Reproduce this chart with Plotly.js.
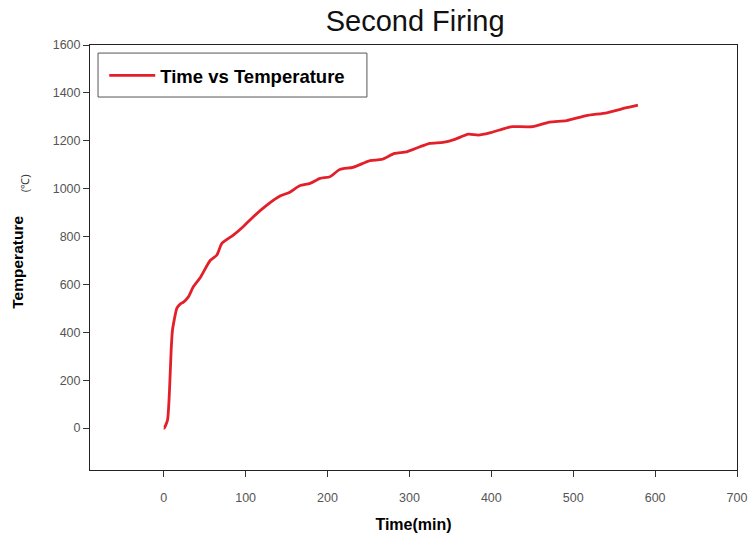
<!DOCTYPE html>
<html>
<head>
<meta charset="utf-8">
<script src="https://cdn.plot.ly/plotly-3.0.1.min.js"></script>
<style>html,body{margin:0;padding:0;background:#fff;}#chart{width:748px;height:536px;}</style>
</head>
<body>
<div id="chart"></div>
<script>
const timeMin = [0, 0.6, 4.6, 7.1, 9.1, 10.7, 12.8, 16.1, 20.1, 24.1, 29.9, 36, 44.5, 56.7, 64.9, 71, 85, 97, 109.5, 126, 142, 154, 166, 178.7, 191, 203, 215, 231, 252, 266, 282, 296.6, 313, 325, 341, 355.5, 372, 384, 398, 410, 421, 426, 450.6, 471, 492, 516, 541, 565, 579];
const tempC = [0, 0, 33, 159, 326, 409, 451, 501, 518, 526, 547, 589, 628, 700, 723, 771, 806, 841, 883, 931, 969, 985, 1012, 1022, 1043, 1050, 1080, 1089, 1117, 1122, 1147, 1154, 1175, 1189, 1193, 1206, 1228, 1224, 1233, 1245, 1256, 1259, 1259, 1278, 1284, 1305, 1317, 1338, 1349];
const xTicks = [0, 100, 200, 300, 400, 500, 600, 700];
const yTicks = [0, 200, 400, 600, 800, 1000, 1200, 1400, 1600];

const trace = {
  x: timeMin, y: tempC, type: 'scatter', mode: 'lines',
  name: '<b>Time vs Temperature</b>',
  line: {color: '#e3202a', width: 2.8, shape: 'spline', smoothing: 0.6}
};

const layout = {
  width: 748, height: 536,
  margin: {l: 90, r: 11, t: 45, b: 66},
  paper_bgcolor: '#fff', plot_bgcolor: '#fff',
  font: {family: 'Liberation Sans, Arial, sans-serif', color: '#000'},
  title: {text: 'Second Firing', font: {size: 29, color: '#111'}, x: 0.555, xanchor: 'center', y: 0.962, yanchor: 'middle'},
  xaxis: {
    range: [-90, 700], tickvals: xTicks, ticktext: xTicks.map(String),
    showgrid: false, zeroline: false, showline: true, linecolor: '#222', linewidth: 1, mirror: true,
    ticks: 'outside', ticklen: 6, tickcolor: '#333', ticklabelstandoff: 10,
    tickfont: {size: 12.5, color: '#555', family: 'Liberation Sans Narrow, Liberation Sans, Arial'},
    title: {text: '<b>Time(min)</b>', font: {size: 16, color: '#000', family: 'Liberation Sans Narrow, Liberation Sans, Arial'}, standoff: 14}
  },
  yaxis: {
    range: [-175, 1600], tickvals: yTicks, ticktext: yTicks.map(String),
    showgrid: false, zeroline: false, showline: true, linecolor: '#222', linewidth: 1, mirror: true,
    ticks: 'outside', ticklen: 6, tickcolor: '#333',
    tickfont: {size: 12.5, color: '#555', family: 'Liberation Sans Narrow, Liberation Sans, Arial'}
  },
  showlegend: true,
  legend: {
    x: 0.022, y: 0.972, xanchor: 'left', yanchor: 'top',
    bgcolor: 'rgba(0,0,0,0)', borderwidth: 0,
    font: {size: 18.5, color: '#000'},
    itemwidth: 46
  },
  shapes: [
    {type: 'rect', xref: 'paper', yref: 'paper', x0: 0.0124, x1: 0.428, y0: 0.8776, y1: 0.981, line: {color: '#555', width: 1}, fillcolor: 'rgba(0,0,0,0)', layer: 'below'}
  ],
  annotations: [
    {text: '<b>Temperature</b>', xref: 'paper', yref: 'paper', x: -0.112, y: 0.489, xanchor: 'center', yanchor: 'middle', textangle: -90, showarrow: false, font: {size: 15.5, color: '#000'}},
    {text: '(℃)', xref: 'paper', yref: 'paper', x: -0.1, y: 0.675, xanchor: 'center', yanchor: 'middle', textangle: -90, showarrow: false, font: {size: 11, color: '#333'}}
  ]
};

Plotly.newPlot('chart', [trace], layout, {displayModeBar: false, staticPlot: true});
</script>
</body>
</html>
